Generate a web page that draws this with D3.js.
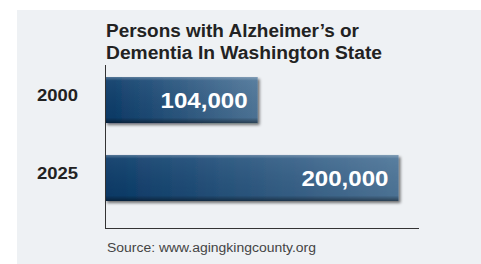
<!DOCTYPE html>
<html>
<head>
<meta charset="utf-8">
<script src="https://cdn.jsdelivr.net/npm/d3@7"></script>
<style>
  html, body { margin: 0; padding: 0; background: #fff; }
  svg { display: block; }
</style>
</head>
<body>
<div id="chart"></div>
<script>
let width = 481,
  height = 264

// data
let years = ['2000', '2025']
let persons = [104000, 200000]
let titleLines = ['Persons with Alzheimer\u2019s or', 'Dementia In Washington State']
let source = 'Source: www.agingkingcounty.org'

let font = 'Liberation Sans, Arial, sans-serif'

let svg = d3.select('#chart')
  .append('svg')
  .attr('width', width)
  .attr('height', height)

let defs = svg.append('defs')

// horizontal dark-to-light blue
let grad = defs.append('linearGradient')
  .attr('id', 'barGrad')
  .attr('x1', '0%').attr('x2', '100%')
  .attr('y1', '0%').attr('y2', '0%')
grad.append('stop').attr('offset', '0%').attr('stop-color', '#0a3a68')
grad.append('stop').attr('offset', '100%').attr('stop-color', '#4f7699')

// vertical sheen on top of it
let sheen = defs.append('linearGradient')
  .attr('id', 'sheen')
  .attr('x1', '0%').attr('x2', '0%')
  .attr('y1', '0%').attr('y2', '100%')
sheen.append('stop').attr('offset', '0%').attr('stop-color', '#fff').attr('stop-opacity', 0.3)
sheen.append('stop').attr('offset', '8%').attr('stop-color', '#fff').attr('stop-opacity', 0.06)
sheen.append('stop').attr('offset', '88%').attr('stop-color', '#000').attr('stop-opacity', 0.04)
sheen.append('stop').attr('offset', '100%').attr('stop-color', '#000').attr('stop-opacity', 0.45)

let shadow = defs.append('filter')
  .attr('id', 'shadow')
  .attr('x', '-10%').attr('y', '-20%')
  .attr('width', '130%').attr('height', '160%')
shadow.append('feGaussianBlur').attr('in', 'SourceAlpha').attr('stdDeviation', 1.5)
shadow.append('feOffset').attr('dx', 2).attr('dy', 2).attr('result', 'off')
shadow.append('feComponentTransfer').append('feFuncA').attr('type', 'linear').attr('slope', 0.55)
let merge = shadow.append('feMerge')
merge.append('feMergeNode')
merge.append('feMergeNode').attr('in', 'SourceGraphic')

// panel background
svg.append('rect')
  .attr('x', 17).attr('y', 10)
  .attr('width', width - 17).attr('height', height - 10)
  .attr('fill', '#eef1f4')

let x0 = 105
let x = d3.scaleLinear()
  .domain([0, 214000])
  .range([x0, 419])

let y = d3.scaleBand()
  .domain(years)
  .range([65, 213])
  .paddingInner(0.41)
  .paddingOuter(0.154)

// title (the source type is set wide, so stretch to match)
svg.append('g')
  .selectAll('text')
  .data(titleLines)
  .enter().append('text')
  .attr('x', 106)
  .attr('y', (d, i) => 37 + i * 22)
  .attr('font-family', font)
  .attr('font-weight', 'bold')
  .attr('font-size', '17.5px')
  .attr('fill', '#222')
  .attr('textLength', (d, i) => [253, 276][i])
  .attr('lengthAdjust', 'spacingAndGlyphs')
  .text(d => d)

// bars
let bars = svg.append('g')
  .selectAll('g')
  .data(years)
  .enter().append('g')

bars.append('rect')
  .attr('x', x0)
  .attr('y', d => y(d))
  .attr('width', (d, i) => x(persons[i]) - x0)
  .attr('height', y.bandwidth())
  .attr('fill', 'url(#barGrad)')
  .attr('filter', 'url(#shadow)')

bars.append('rect')
  .attr('x', x0)
  .attr('y', d => y(d))
  .attr('width', (d, i) => x(persons[i]) - x0)
  .attr('height', y.bandwidth())
  .attr('fill', 'url(#sheen)')

bars.append('text')
  .attr('x', (d, i) => x(persons[i]) - 10)
  .attr('y', d => y(d) + y.bandwidth() / 2 + 8)
  .attr('text-anchor', 'end')
  .attr('font-family', font)
  .attr('font-weight', 'bold')
  .attr('font-size', '21.5px')
  .attr('fill', '#fff')
  .attr('textLength', 87)
  .attr('lengthAdjust', 'spacingAndGlyphs')
  .text((d, i) => d3.format(',')(persons[i]))

// category labels
svg.append('g')
  .selectAll('text')
  .data(years)
  .enter().append('text')
  .attr('x', 37)
  .attr('y', d => y(d) + y.bandwidth() / 2 + 1)
  .attr('font-family', font)
  .attr('font-weight', 'bold')
  .attr('font-size', '17px')
  .attr('fill', '#222')
  .attr('textLength', 41)
  .attr('lengthAdjust', 'spacingAndGlyphs')
  .text(d => d)

// axis lines
svg.append('line')
  .attr('x1', x0 + 0.5).attr('x2', x0 + 0.5)
  .attr('y1', 65).attr('y2', 228)
  .attr('stroke', '#333').attr('stroke-width', 1)
svg.append('line')
  .attr('x1', x0).attr('x2', x.range()[1])
  .attr('y1', 228.5).attr('y2', 228.5)
  .attr('stroke', '#333').attr('stroke-width', 1)

// source
svg.append('text')
  .attr('x', 107)
  .attr('y', 252)
  .attr('font-family', font)
  .attr('font-size', '12.5px')
  .attr('fill', '#444')
  .attr('textLength', 209)
  .attr('lengthAdjust', 'spacingAndGlyphs')
  .text(source)
</script>
</body>
</html>
